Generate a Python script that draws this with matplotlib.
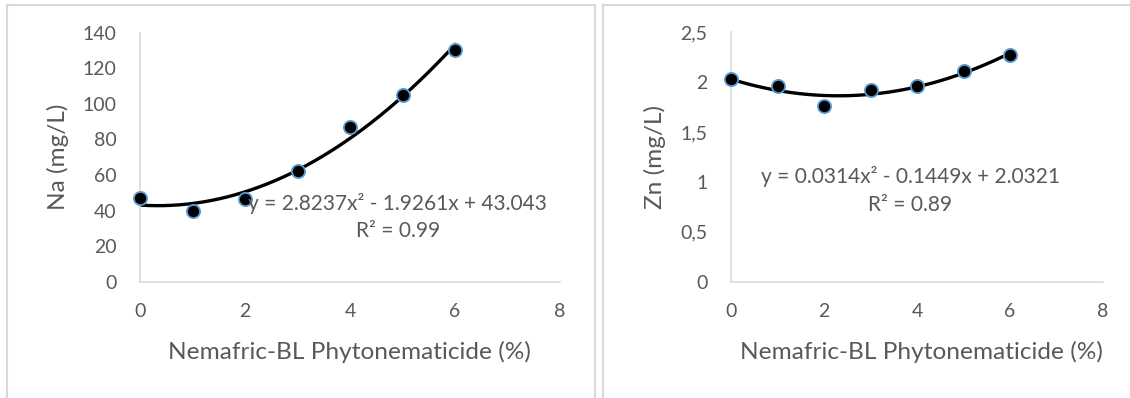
import numpy as np
import matplotlib
matplotlib.use("Agg")
import matplotlib.pyplot as plt
from matplotlib.lines import Line2D

# ---- data ----
dose = [0, 1, 2, 3, 4, 5, 6]
na_values = [46.9, 39.9, 46.3, 62.4, 86.7, 104.9, 130.2]
zn_values = [2.032, 1.965, 1.764, 1.925, 1.965, 2.111, 2.276]
na_coef = [2.8237, -1.9261, 43.043]
zn_coef = [0.0314, -0.1449, 2.0321]
na_r2 = "0.99"
zn_r2 = "0.89"
x_ticks = [0, 2, 4, 6, 8]
na_ticks = [0, 20, 40, 60, 80, 100, 120, 140]
na_ticklabels = ["0", "20", "40", "60", "80", "100", "120", "140"]
zn_ticks = [0, 0.5, 1, 1.5, 2, 2.5]
zn_ticklabels = ["0", "0,5", "1", "1,5", "2", "2,5"]
xlabel = "Nemafric-BL Phytonematicide (%)"
na_ylabel = "Na (mg/L)"
zn_ylabel = "Zn (mg/L)"

W, H = 1130, 398
plt.rcParams['font.family'] = ['Lato', 'DejaVu Sans']
TXT = '#595959'
GRID = '#D9D9D9'
FS = 17

fig = plt.figure(figsize=(W/100, H/100), dpi=100)

def px_axes(x0, x1, ytop, ybot):
    return fig.add_axes([x0/W, 1-ybot/H, (x1-x0)/W, (ybot-ytop)/H])

def fmt_eq(c):
    def term(v):
        return ("- " if v < 0 else "+ ") + f"{abs(v):g}"
    return f"y = {c[0]:g}x\u00b2 {term(c[1])}x {term(c[2])}"

eq_texts = []

def panel(ax, xs, ys, coef, r2, yticks, yticklabels, ymax, ylabel, eqpos, r2pos):
    ax.set_xlim(0, 8)
    ax.set_ylim(0, ymax)
    for s in ['top', 'right']:
        ax.spines[s].set_visible(False)
    for s in ['left', 'bottom']:
        ax.spines[s].set_color(GRID)
        ax.spines[s].set_linewidth(1.2)
    ax.set_xticks(x_ticks)
    ax.set_yticks(yticks)
    ax.set_yticklabels(yticklabels)
    ax.tick_params(length=0, labelsize=FS, colors=TXT)
    ax.tick_params(axis='y', pad=17)
    ax.tick_params(axis='x', pad=15)
    xf = np.linspace(min(xs), max(xs), 200)
    ax.plot(xf, np.polyval(coef, xf), color='black', lw=2.4, zorder=2)
    ax.plot(xs, ys, 'o', ms=9.5, mfc='black', mec='#5B9BD5', mew=1.3, zorder=3, clip_on=False)
    ax.set_xlabel(xlabel, fontsize=FS, color=TXT)
    ax.set_ylabel(ylabel, fontsize=FS, color=TXT)
    t1 = ax.text(eqpos[0], eqpos[1], fmt_eq(coef), ha='center', va='center', fontsize=FS, color=TXT, zorder=4)
    t2 = ax.text(r2pos[0], r2pos[1], "R\u00b2 = " + r2, ha='center', va='center', fontsize=FS, color=TXT, zorder=4)
    eq_texts.extend([t1, t2])
    ax.patch.set_alpha(0)

ax1 = px_axes(140, 560, 32.5, 281.7)
panel(ax1, dose, na_values, na_coef, na_r2, na_ticks, na_ticklabels, 140, na_ylabel,
      (4.91, 44.2), (4.91, 28.5))
ax1.yaxis.set_label_coords(-(140-58)/420, 0.5)
ax1.yaxis.label.set_va('center')
ax1.xaxis.set_label_coords((349-140)/420, -(352-281.7)/249.2)
ax1.xaxis.label.set_va('center')

ax2 = px_axes(731, 1103, 32.5, 281.7)
panel(ax2, dose, zn_values, zn_coef, zn_r2, zn_ticks, zn_ticklabels, 2.5, zn_ylabel,
      (3.85, 1.051), (3.85, 0.770))
ax2.yaxis.set_label_coords(-(731-655)/372, 0.5)
ax2.yaxis.label.set_va('center')
ax2.xaxis.set_label_coords((921-731)/372, -(352-281.7)/249.2)
ax2.xaxis.label.set_va('center')

# fit font sizes to the widths measured on the reference
fig.canvas.draw()
r = fig.canvas.get_renderer()
lab_w = ax1.xaxis.label.get_window_extent(r).width
fs_lab = FS * 362 / lab_w
eq_w = eq_texts[0].get_window_extent(r).width
fs_eq = FS * 300 / eq_w
tick140 = [t for t in ax1.get_yticklabels() if t.get_text() == "140"][0]
fs_tick = FS * 34 / tick140.get_window_extent(r).width
for ax in (ax1, ax2):
    ax.xaxis.label.set_fontsize(fs_lab)
    ax.yaxis.label.set_fontsize(fs_lab)
    ax.tick_params(labelsize=fs_tick)
for t in eq_texts:
    t.set_fontsize(fs_eq)

def fl(x0, y0, x1, y1):
    fig.add_artist(Line2D([x0/W, x1/W], [1-y0/H, 1-y1/H], color=GRID, lw=1.5, transform=fig.transFigure))

fl(7, 4.5, 595, 4.5)
fl(7, 4.5, 7, H)
fl(595, 4.5, 595, H)
fl(603, 4.5, W, 4.5)
fl(603, 4.5, 603, H)

fig.savefig("out.png", dpi=100)
